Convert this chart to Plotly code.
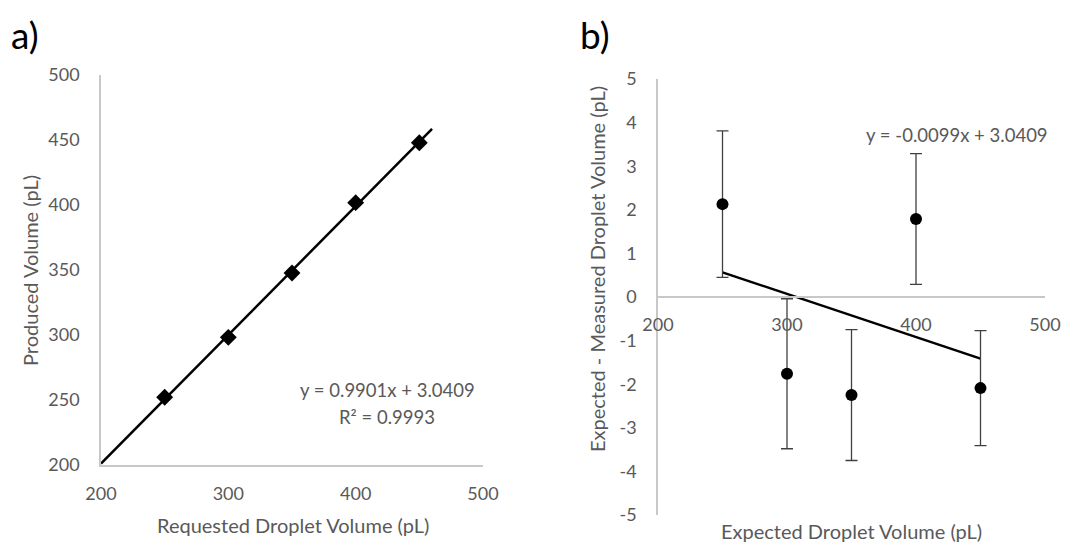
import plotly.graph_objects as go

# ---- Data ----
# Panel a: requested vs produced volume (pL)
requested = [250, 300, 350, 400, 450]
produced = [252.1, 298.2, 347.7, 401.8, 447.9]
fit_a_slope, fit_a_int = 0.9901, 3.0409
fit_a_x = [200, 460]

# Panel b: expected vs (expected - measured) difference (pL)
expected = [250, 300, 350, 400, 450]
diff = [2.13, -1.76, -2.25, 1.79, -2.09]
diff_err = [1.68, 1.72, 1.50, 1.50, 1.32]
fit_b_slope, fit_b_int = -0.0099, 3.0409
fit_b_x = [250, 450]

x_ticks = [200, 300, 400, 500]
ya_ticks = [200, 250, 300, 350, 400, 450, 500]
yb_ticks = [-5, -4, -3, -2, -1, 0, 1, 2, 3, 4, 5]
yb_ticktext = ["-5", "-4", "-3", "-2", "-1", "0", "1", "2", "3", "4", "5"]

FONT = "Lato"
GREY = "#595959"
AXIS = "#c8c8c8"

fig = go.Figure()

# Panel a
fig.add_trace(go.Scatter(
    x=fit_a_x, y=[fit_a_slope * v + fit_a_int for v in fit_a_x],
    mode="lines", line=dict(color="black", width=2.5),
    xaxis="x", yaxis="y", showlegend=False, hoverinfo="skip"))
fig.add_trace(go.Scatter(
    x=requested, y=produced, mode="markers",
    marker=dict(symbol="diamond", size=13, color="black"),
    xaxis="x", yaxis="y", showlegend=False))

# Panel b
fig.add_trace(go.Scatter(
    x=fit_b_x, y=[fit_b_slope * v + fit_b_int for v in fit_b_x],
    mode="lines", line=dict(color="black", width=2.5),
    xaxis="x2", yaxis="y2", showlegend=False, hoverinfo="skip"))
fig.add_trace(go.Scatter(
    x=expected, y=diff, mode="markers",
    marker=dict(symbol="circle", size=12, color="black"),
    error_y=dict(type="data", array=diff_err, visible=True,
                 color="#404040", thickness=1.3, width=6),
    xaxis="x2", yaxis="y2", showlegend=False))

ya0, ya1 = 1 - 465 / 542, 1 - 75 / 542
yb0, yb1 = 1 - 515 / 542, 1 - 79 / 542

tickfont = dict(family=FONT, size=18, color=GREY)
common = dict(showgrid=False, zeroline=False, showline=True, linecolor=AXIS,
              linewidth=1.5, ticks="", tickfont=tickfont, automargin=False)

fig.update_layout(
    width=1082, height=542,
    margin=dict(l=0, r=0, t=0, b=0),
    paper_bgcolor="white", plot_bgcolor="white",
    font=dict(family=FONT, color=GREY),
    xaxis=dict(domain=[101 / 1082, 483 / 1082], range=[200, 500],
               tickvals=x_ticks, ticklabelstandoff=12, anchor="y", **common),
    yaxis=dict(domain=[ya0, ya1], range=[200, 500],
               tickvals=ya_ticks, ticklabelstandoff=16, anchor="x", **common),
    xaxis2=dict(domain=[658 / 1082, 1045 / 1082], range=[200, 500],
                tickvals=x_ticks, ticklabelstandoff=12,
                anchor="free", position=(yb0 + yb1) / 2, **common),
    yaxis2=dict(domain=[yb0, yb1], range=[-5, 5],
                tickvals=yb_ticks, ticktext=yb_ticktext, ticklabelstandoff=16,
                anchor="x2", **common),
)

TITLE = dict(family=FONT, size=20, color=GREY)
EQ = dict(family=FONT, size=18.5, color=GREY)
ann = [
    dict(text="a)", x=9 / 1082, y=1 - 34 / 542, xanchor="left", yanchor="middle",
         font=dict(family=FONT, size=37, color="black")),
    dict(text="b)", x=578 / 1082, y=1 - 34 / 542, xanchor="left", yanchor="middle",
         font=dict(family=FONT, size=37, color="black")),
    dict(text="Requested Droplet Volume (pL)", x=293 / 1082, y=1 - 525 / 542,
         xanchor="center", yanchor="middle", font=TITLE),
    dict(text="Produced Volume (pL)", x=30 / 1082, y=1 - 271 / 542, textangle=-90,
         xanchor="center", yanchor="middle", font=TITLE),
    dict(text="Expected Droplet Volume (pL)", x=851 / 1082, y=1 - 531 / 542,
         xanchor="center", yanchor="middle", font=TITLE),
    dict(text="Expected - Measured Droplet Volume (pL)", x=597 / 1082, y=1 - 269 / 542,
         textangle=-90, xanchor="center", yanchor="middle", font=TITLE),
    dict(text="y = 0.9901x + 3.0409", x=387 / 1082, y=1 - 390 / 542,
         xanchor="center", yanchor="middle", font=EQ),
    dict(text="R² = 0.9993", x=387 / 1082, y=1 - 417 / 542,
         xanchor="center", yanchor="middle", font=EQ),
    dict(text="y = -0.0099x + 3.0409", x=957 / 1082, y=1 - 135 / 542,
         xanchor="center", yanchor="middle", font=EQ),
]
for a in ann:
    a.update(xref="paper", yref="paper", showarrow=False)
fig.update_layout(annotations=ann)

fig.write_html("out.html")
